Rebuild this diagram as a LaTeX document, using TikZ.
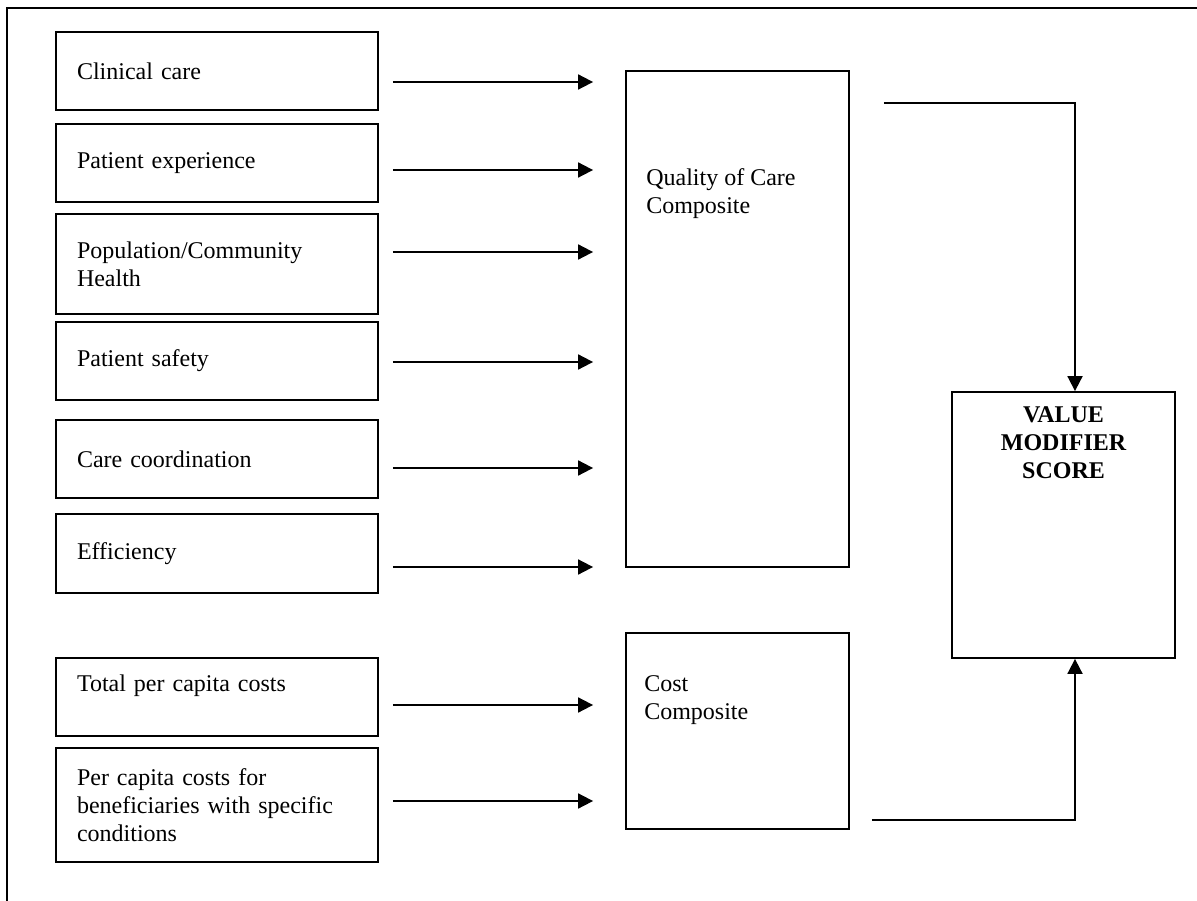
\documentclass[tikz,border=0pt]{standalone}
\usepackage{fontspec}
\setmainfont{Liberation Serif}
\usetikzlibrary{arrows.meta,calc}

\begin{document}
\begin{tikzpicture}[x=1pt,y=-1pt,
  every node/.style={font=\fontsize{24}{28}\selectfont},
  inbox/.style={draw, line width=1.8pt, minimum width=322pt, text width=280pt,
    inner xsep=21pt, inner ysep=0pt, align=left},
  bigbox/.style={draw, line width=1.8pt, inner sep=0pt, minimum width=223pt},
  boxtext/.style={inner sep=0pt, align=left, anchor=north west},
  arr/.style={line width=1.8pt, -{Triangle[length=15pt,width=15pt]}}]
\useasboundingbox (0,0) rectangle (1197,901);
\clip (0,0) rectangle (1197,901);

% frame
\draw[line width=1.8pt] (1210,8) -- (7,8) -- (7,915);

% measures
\node[inbox, minimum height=78pt] (clin) at (217,71) {Clinical care};
\node[inbox, minimum height=78pt] (pexp) at (217,163) {Patient experience};
\node[inbox, minimum height=100pt] (popu) at (217,264) {Population/Community\\Health};
\node[inbox, minimum height=78pt] (psaf) at (217,361) {Patient safety};
\node[inbox, minimum height=78pt] (ccor) at (217,459) {Care coordination};
\node[inbox, minimum height=79pt] (effi) at (217,553.5) {Efficiency};
\node[inbox, minimum height=78pt] (tcost) at (217,697) {Total per capita costs\\ \mbox{}};
\node[inbox, minimum height=114pt] (ccost) at (217,805) {Per capita costs for\\beneficiaries with specific\\conditions};

% composites
\node[bigbox, minimum height=496pt] (qual) at (737.5,319) {};
\node[boxtext] (qualtxt) at ($(qual.north west)+(21,98)$) {Quality of Care\\Composite};
\node[bigbox, minimum height=196pt] (cost) at (737.5,731) {};
\node[boxtext] (costtxt) at ($(cost.north west)+(19,43)$) {Cost\\Composite};

% score
\node[bigbox, minimum height=266pt] (val) at (1063.5,525) {};
\node[inner sep=0pt, align=center, anchor=north, font=\fontsize{24}{28}\selectfont\bfseries]
  (valtxt) at ($(val.north)+(0,15)$) {VALUE\\MODIFIER\\SCORE};

% arrows
\foreach \n/\y in {clin/82, pexp/170, popu/252, psaf/362, ccor/468, effi/567}
  \draw[arr] ($(\n.east |- 0,\y)+(14,0)$) -- ($(qual.west |- 0,\y)+(-32,0)$);
\foreach \n/\y in {tcost/705, ccost/801}
  \draw[arr] ($(\n.east |- 0,\y)+(14,0)$) -- ($(cost.west |- 0,\y)+(-32,0)$);

\draw[arr] ($(qual.east |- 0,103)+(34,0)$) -| ($(val.north)+(11.5,0)$);
\draw[arr] ($(cost.east |- 0,820)+(22,0)$) -| ($(val.south)+(11.5,0)$);
\end{tikzpicture}
\end{document}
